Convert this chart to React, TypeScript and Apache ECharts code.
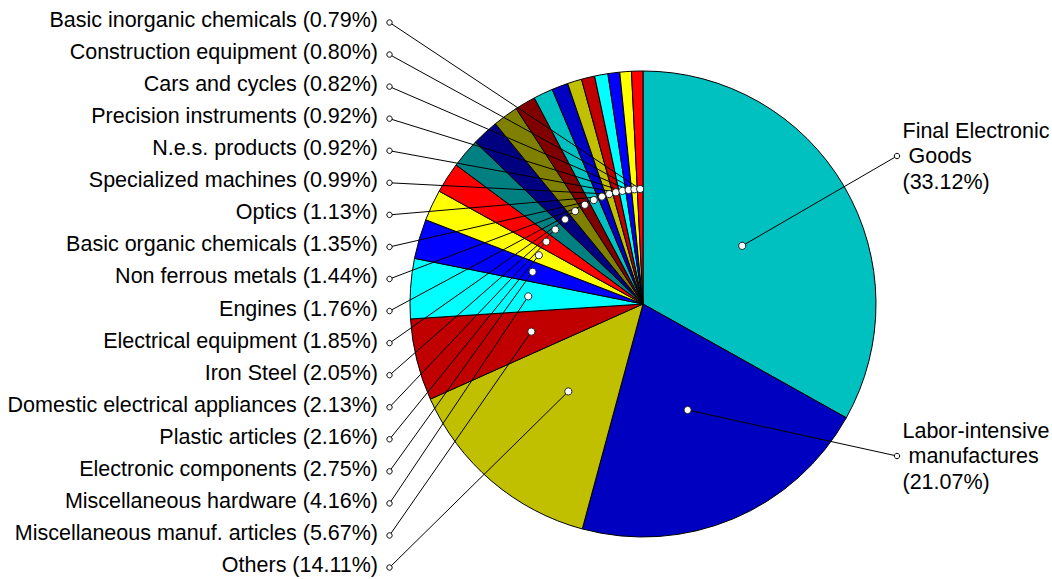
import React, { useEffect, useRef } from "react";
import * as echarts from "echarts";

const names = [
  "Final Electronic Goods",
  "Labor-intensive manufactures",
  "Others",
  "Miscellaneous manuf. articles",
  "Miscellaneous hardware",
  "Electronic components",
  "Plastic articles",
  "Domestic electrical appliances",
  "Iron Steel",
  "Electrical equipment",
  "Engines",
  "Non ferrous metals",
  "Basic organic chemicals",
  "Optics",
  "Specialized machines",
  "N.e.s. products",
  "Precision instruments",
  "Cars and cycles",
  "Construction equipment",
  "Basic inorganic chemicals",
];

const values = [
  33.12, 21.07, 14.11, 5.67, 4.16, 2.75, 2.16, 2.13, 2.05, 1.85, 1.76, 1.44,
  1.35, 1.13, 0.99, 0.92, 0.92, 0.82, 0.8, 0.79,
];

const colors = [
  "#00C0C0", "#0000C0", "#C0C000", "#C00000", "#00FFFF", "#0000FF", "#FFFF00",
  "#FF0000", "#008080", "#000080", "#808000", "#800000",
  "#00C0C0", "#0000C0", "#C0C000", "#C00000", "#00FFFF", "#0000FF", "#FFFF00",
  "#FF0000",
];

const CX = 643;
const CY = 304;
const R = 233;
const ANCHOR_R = 115;
const LEFT_DOT_X = 389.5;
const LEFT_TEXT_X = 378;
const LEFT_TOP = 22.5;
const LEFT_STEP = 32.06;
const RIGHT_DOT_X = 897;
const RIGHT_TEXT_X = 902.5;
const RIGHT_DOT_Y = [156, 456];
const FONT = "'Liberation Sans', Arial, sans-serif";

export default function App() {
  const ref = useRef<HTMLDivElement>(null);

  useEffect(() => {
    if (!ref.current) return;
    const chart = echarts.init(ref.current, undefined, { renderer: "svg" });

    const total = values.reduce((a, b) => a + b, 0);
    const anchors: number[][] = [];
    let cum = 0;
    values.forEach((v) => {
      const mid = ((cum + v / 2) / total) * Math.PI * 2;
      anchors.push([CX + ANCHOR_R * Math.sin(mid), CY - ANCHOR_R * Math.cos(mid)]);
      cum += v;
    });

    const outerDot = (i: number): number[] => {
      if (i < 2) return [RIGHT_DOT_X, RIGHT_DOT_Y[i]];
      const slot = values.length - 1 - i;
      return [LEFT_DOT_X, LEFT_TOP + slot * LEFT_STEP];
    };

    const lines: any[] = [];
    const dots: any[] = [];
    values.forEach((_, i) => {
      const a = anchors[i];
      const o = outerDot(i);
      lines.push({
        type: "line",
        z: 90,
        shape: { x1: a[0], y1: a[1], x2: o[0], y2: o[1] },
        style: { stroke: "#000", lineWidth: 1 },
      });
      dots.push({
        type: "circle",
        z: 100,
        shape: { cx: a[0], cy: a[1], r: 3.6 },
        style: { fill: "#fff", stroke: "#222", lineWidth: 1 },
      });
      dots.push({
        type: "circle",
        z: 100,
        shape: { cx: o[0], cy: o[1], r: 2.7 },
        style: { fill: "#fff", stroke: "#000", lineWidth: 1 },
      });
    });

    chart.setOption({
      animation: false,
      backgroundColor: "#fff",
      graphic: [...lines, ...dots],
      series: [
        {
          type: "pie",
          center: [CX, CY],
          radius: R,
          startAngle: 90,
          clockwise: true,
          avoidLabelOverlap: false,
          data: names.map((n, i) => ({
            name: n,
            value: values[i],
            itemStyle: { color: colors[i] },
          })),
          itemStyle: { borderColor: "#000", borderWidth: 1 },
          emphasis: { disabled: true },
          label: {
            show: true,
            position: "outside",
            color: "#000",
            fontFamily: FONT,
            fontSize: 21.5,
            lineHeight: 25.5,
            formatter: (p: any) => {
              const pct = "(" + Number(p.value).toFixed(2) + "%)";
              if (p.dataIndex < 2) {
                const n: string = p.name;
                const k = n.lastIndexOf(" ");
                return n.slice(0, k) + "\n " + n.slice(k + 1) + "\n" + pct;
              }
              return p.name + " " + pct;
            },
          },
          labelLine: { show: false },
          labelLayout: (params: any) => {
            const i = params.dataIndex;
            const o = outerDot(i);
            if (i < 2) {
              return {
                x: RIGHT_TEXT_X,
                y: o[1],
                align: "left",
                verticalAlign: "middle",
              };
            }
            return {
              x: LEFT_TEXT_X,
              y: o[1] - 2.5,
              align: "right",
              verticalAlign: "middle",
            };
          },
        },
      ],
    });

    return () => chart.dispose();
  }, []);

  return (
    <div
      ref={ref}
      style={{ position: "absolute", left: 0, top: 0, width: 1052, height: 579 }}
    />
  );
}
